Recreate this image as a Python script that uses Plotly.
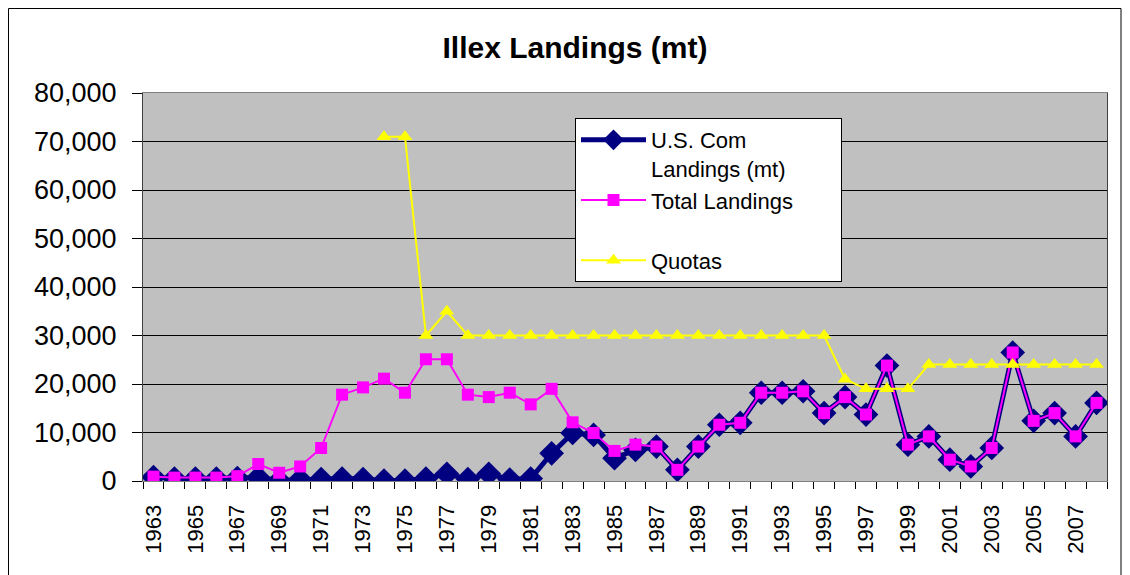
"""
Illex landings chart
"""
import plotly.graph_objects as go

years = list(range(1963, 2009))

us_com_landings = [
    800, 500, 500, 500, 600, 700, 100, 300, 400, 500,
    400, 100, 100, 500, 1500, 400, 1500, 300, 500, 5700,
    9900, 9500, 4700, 6400, 7100, 2300, 7100, 11600, 12000, 18200,
    18200, 18500, 14000, 17300, 13700, 23800, 7500, 9200, 4400, 3000,
    6800, 26500, 12400, 14000, 9200, 16100,
]

total_landings = [
    900, 700, 700, 700, 1000, 3500, 1700, 3000, 6800, 17800,
    19300, 21100, 18200, 25100, 25100, 17800, 17300, 18200, 15800, 19000,
    12100, 9900, 6200, 7500, 7100, 2300, 7100, 11600, 12000, 18200,
    18200, 18500, 14000, 17300, 13700, 23800, 7500, 9200, 4400, 3000,
    6800, 26500, 12400, 14000, 9200, 16100,
]

quotas = [
    None, None, None, None, None, None, None, None, None, None,
    None, 71000, 71000, 30000, 35000, 30000, 30000, 30000, 30000, 30000,
    30000, 30000, 30000, 30000, 30000, 30000, 30000, 30000, 30000, 30000,
    30000, 30000, 30000, 21000, 19000, 19000, 19000, 24000, 24000, 24000,
    24000, 24000, 24000, 24000, 24000, 24000,
]

FONT = "Liberation Sans, Arial, sans-serif"
NB = "\u00a0"

# page body adds an 8px offset, so the figure is 8px smaller
W, H = 1122, 567
PL, PR, PT, PB = 135, 23, 85, 94
PW, PH = W - PL - PR, H - PT - PB

fig = go.Figure()

# US commercial landings - thick navy line with diamonds
fig.add_trace(go.Scatter(
    x=years, y=us_com_landings,
    mode="lines+markers",
    name="U.S. Com<br>Landings (mt)",
    line=dict(color="#000080", width=5),
    marker=dict(symbol="diamond", size=19, color="#000080"),
))

# total landings - magenta with squares
fig.add_trace(go.Scatter(
    x=years, y=total_landings,
    mode="lines+markers",
    name="Total Landings" + NB * 7 + "<br>" + NB,
    line=dict(color="#FF00FF", width=2),
    marker=dict(symbol="square", size=12, color="#FF00FF"),
))

# quotas - yellow with triangles
fig.add_trace(go.Scatter(
    x=years, y=quotas,
    mode="lines+markers",
    name="Quotas",
    line=dict(color="#FFFF00", width=2),
    marker=dict(symbol="triangle-up", size=13, color="#FFFF00"),
    connectgaps=False,
))

fig.update_layout(
    width=W, height=H,
    margin=dict(l=PL, r=PR, t=PT, b=PB, autoexpand=False),
    paper_bgcolor="white",
    plot_bgcolor="#C0C0C0",
    font=dict(family=FONT, color="black"),
    title=dict(
        text="<b>Illex Landings (mt)</b>",
        x=567 / W, xref="container", xanchor="center",
        y=1 - 39 / H, yref="container", yanchor="middle",
        font=dict(size=30, family=FONT, color="black"),
    ),
    legend=dict(
        x=(567 - PL) / PW, y=(PT + PH - 110) / PH,
        xanchor="left", yanchor="top",
        bgcolor="white", bordercolor="black", borderwidth=1,
        font=dict(size=22, family=FONT, color="black"),
        valign="top",
        itemwidth=65,
        tracegroupgap=0,
    ),
    showlegend=True,
)

fig.update_xaxes(
    range=[1962.5, 2008.5],
    tickmode="linear", tick0=1963, dtick=2,
    ticks="", tickangle=-90,
    ticklabelstandoff=14,
    tickfont=dict(size=22, family=FONT, color="black"),
    showgrid=False, zeroline=False,
    showline=True, linecolor="#808080", linewidth=1, mirror=True,
    minor=dict(tickmode="linear", tick0=1962.5, dtick=1,
               ticks="outside", ticklen=7, tickcolor="black", showgrid=False),
)

fig.update_yaxes(
    range=[0, 80000],
    tickmode="linear", tick0=0, dtick=10000,
    tickformat=",",
    ticks="outside", ticklen=10, tickcolor="black",
    ticklabelstandoff=10,
    tickfont=dict(size=27, family=FONT, color="black"),
    showgrid=True, gridcolor="black", gridwidth=1,
    zeroline=False,
    showline=True, linecolor="#404040", linewidth=1, mirror=True,
)

# outer chart frame
fig.add_shape(
    type="rect", xref="paper", yref="paper",
    x0=(0.5 - PL) / PW, x1=(1113 - PL) / PW,
    y0=(PT + PH - 600) / PH, y1=(PT + PH - 0.5) / PH,
    line=dict(color="black", width=1), fillcolor="rgba(0,0,0,0)",
    layer="above",
)

fig.write_html("out.html")
